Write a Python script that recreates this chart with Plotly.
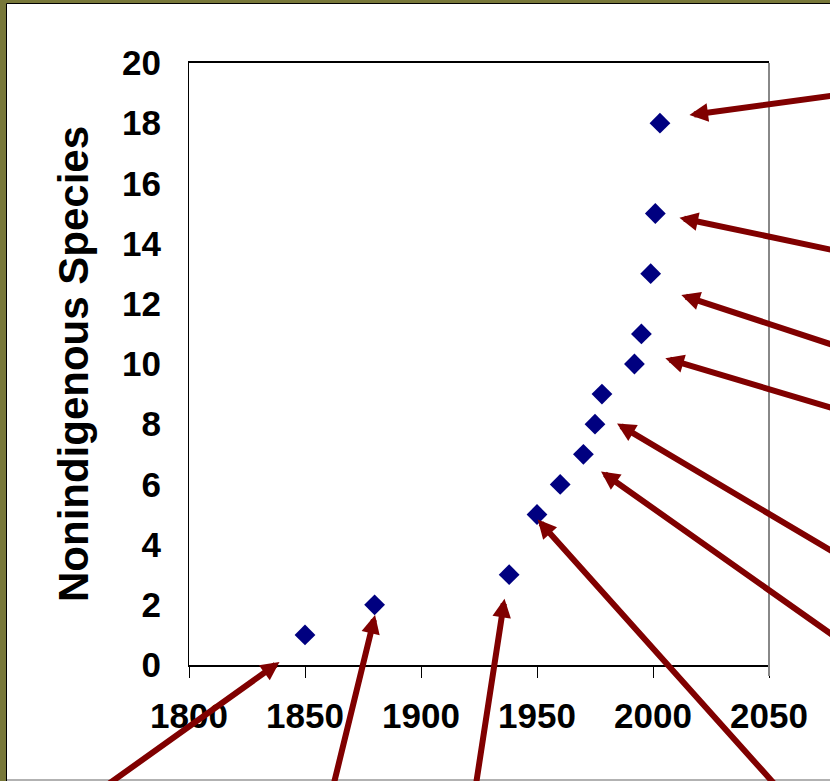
import plotly.graph_objects as go

# ---- data ----
years = [1850, 1880, 1938, 1950, 1960, 1970, 1975, 1978, 1992, 1995, 1999, 2001, 2003]
species = [1, 2, 3, 5, 6, 7, 8, 9, 10, 11, 13, 15, 18]

x_ticks = [1800, 1850, 1900, 1950, 2000, 2050]
y_ticks = [0, 2, 4, 6, 8, 10, 12, 14, 16, 18, 20]

y_title = "Nonindigenous Species"

# callout arrows (head point and tail point, in data units)
arrow_tip_x = [1839.0, 1880.2, 1936.0, 1950.3, 1977.6, 1984.5, 2005.3, 2012.2, 2011.4, 2015.7]
arrow_tip_y = [0.10, 1.66, 2.20, 4.83, 6.43, 8.02, 10.19, 12.29, 14.86, 18.27]
arrow_tail_x = [1759.0, 1861.3, 1923.0, 2056.6, 2082.8, 2082.8, 2082.8, 2082.8, 2082.8, 2082.8]
arrow_tail_y = [-4.30, -4.30, -4.32, -4.32, 0.70, 3.52, 8.41, 10.50, 13.70, 18.97]

# ---- figure geometry ----
W, H = 830, 781
L, R, T, B = 189, 61, 63, 116
PW, PH = W - L - R, H - T - B


def px2paper_x(px):
    return (px - L) / PW


def px2paper_y(py):
    return (H - B - py) / PH


OLIVE = "#78783a"
ARROW = "#800000"

fig = go.Figure()
fig.add_trace(go.Scatter(
    x=years, y=species, mode="markers",
    marker=dict(symbol="diamond", size=16, color="#000080", line=dict(width=0)),
    showlegend=False, hoverinfo="x+y",
))

tickfont = dict(family="Liberation Sans, Arial, sans-serif", size=35, color="black", weight="bold")

fig.update_xaxes(
    range=[1800, 2050], tickvals=x_ticks, ticktext=[str(v) for v in x_ticks],
    showgrid=False, zeroline=False,
    showline=True, linecolor="black", linewidth=1.5, mirror=True,
    ticks="outside", ticklen=11, tickwidth=1.2, tickcolor="black",
    tickfont=tickfont, ticklabelstandoff=8,
)
fig.update_yaxes(
    range=[0, 20], tickvals=y_ticks, ticktext=[str(v) for v in y_ticks],
    showgrid=False, zeroline=False,
    showline=True, linecolor="black", linewidth=1.2, mirror=False,
    ticks="", tickfont=tickfont, ticklabelstandoff=20,
)

shapes = [
    # white slide area with thin black border, on olive frame
    dict(type="rect", xref="paper", yref="paper", layer="below",
         x0=px2paper_x(6.5), x1=px2paper_x(845), y0=px2paper_y(3.5), y1=px2paper_y(800),
         fillcolor="white", line=dict(color="black", width=1)),
    dict(type="line", xref="paper", yref="paper", layer="below",
         x0=px2paper_x(7), x1=px2paper_x(845), y0=px2paper_y(780), y1=px2paper_y(780),
         line=dict(color="#999999", width=1.5)),
    # gray right border of plot area
    dict(type="line", xref="paper", yref="paper", layer="above",
         x0=1, x1=1, y0=px2paper_y(676), y1=1,
         line=dict(color="#888888", width=2)),
]

annotations = [
    dict(text=y_title, xref="paper", yref="paper", x=px2paper_x(73), y=0.5,
         textangle=-90, showarrow=False, xanchor="center", yanchor="middle",
         font=dict(family="Liberation Sans, Arial, sans-serif", size=42, color="black", weight="bold")),
]
for tx, ty, ax_, ay_ in zip(arrow_tip_x, arrow_tip_y, arrow_tail_x, arrow_tail_y):
    annotations.append(dict(
        x=tx, y=ty, ax=ax_, ay=ay_, xref="x", yref="y", axref="x", ayref="y",
        text="", showarrow=True, arrowhead=2, arrowsize=0.62, arrowwidth=6,
        arrowcolor=ARROW, standoff=0,
    ))

fig.update_layout(
    width=W, height=H, autosize=False,
    margin=dict(l=L, r=R, t=T, b=B, pad=0),
    paper_bgcolor=OLIVE, plot_bgcolor="white",
    shapes=shapes, annotations=annotations,
    showlegend=False,
)

fig.write_html(
    "out.html",
    config={"displayModeBar": False},
    post_script="document.body.style.margin='0';document.body.style.overflow='hidden';",
)
